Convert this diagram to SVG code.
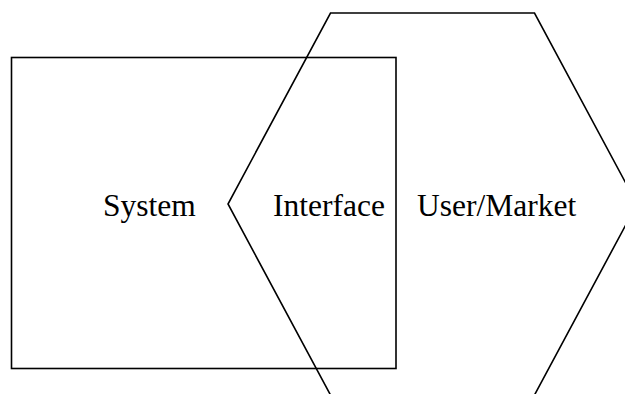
<svg xmlns="http://www.w3.org/2000/svg" width="625" height="394" viewBox="0 0 625 394">
<style>
.shape{fill:none;stroke:#000;stroke-width:1.6}
.lbl{font-family:"Liberation Serif","Times New Roman",serif;font-size:31.5px;fill:#000}
</style>
<rect width="625" height="394" fill="#fff"/>
<g id="system">
<rect class="shape" x="11.5" y="57.5" width="384.5" height="311"/>
<text class="lbl" x="103" y="216">System</text>
</g>
<g id="user-market">
<polygon class="shape" points="330.5,13 534.5,13 637,204 534.5,395 330.5,395 228,204"/>
<text class="lbl" x="417" y="216">User/Market</text>
</g>
<g id="interface">
<text class="lbl" x="273" y="216">Interface</text>
</g>
<g id="connectors"></g>
</svg>
